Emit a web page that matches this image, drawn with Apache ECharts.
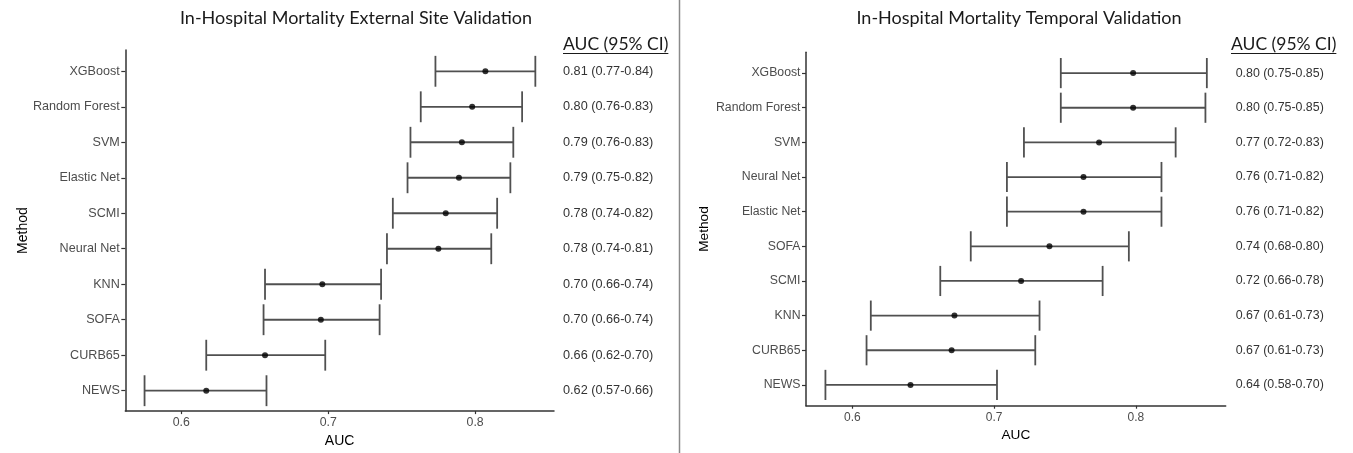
<!DOCTYPE html>
<html><head><meta charset="utf-8">
<script src="https://cdn.jsdelivr.net/npm/echarts@6/dist/echarts.min.js"></script>
<style>html,body{margin:0;padding:0;background:#fff}#c{width:1353px;height:453px}</style>
</head><body><div id="c"></div>
<script>
// ---------------- data ----------------
const leftTitle = 'In-Hospital Mortality External Site Validation';
const rightTitle = 'In-Hospital Mortality Temporal Validation';
const ciHeader = 'AUC (95% CI)';
const xTicks = [0.6, 0.7, 0.8];

const leftMethods = ['XGBoost','Random Forest','SVM','Elastic Net','SCMI','Neural Net','KNN','SOFA','CURB65','NEWS'];
const leftAUC  = [0.807,0.798,0.791,0.789,0.780,0.775,0.696,0.695,0.657,0.617];
const leftLow  = [0.773,0.763,0.756,0.754,0.744,0.740,0.657,0.656,0.617,0.575];
const leftHigh = [0.841,0.832,0.826,0.824,0.815,0.811,0.736,0.735,0.698,0.658];
const leftCI   = ['0.81 (0.77-0.84)','0.80 (0.76-0.83)','0.79 (0.76-0.83)','0.79 (0.75-0.82)','0.78 (0.74-0.82)',
                  '0.78 (0.74-0.81)','0.70 (0.66-0.74)','0.70 (0.66-0.74)','0.66 (0.62-0.70)','0.62 (0.57-0.66)'];
const leftRange = [0.5619, 0.8537];

const rightMethods = ['XGBoost','Random Forest','SVM','Neural Net','Elastic Net','SOFA','SCMI','KNN','CURB65','NEWS'];
const rightAUC  = [0.798,0.798,0.774,0.763,0.763,0.739,0.719,0.672,0.670,0.641];
const rightLow  = [0.747,0.747,0.721,0.709,0.709,0.6835,0.662,0.613,0.610,0.581];
const rightHigh = [0.850,0.849,0.828,0.818,0.818,0.795,0.7765,0.732,0.729,0.702];
const rightCI   = ['0.80 (0.75-0.85)','0.80 (0.75-0.85)','0.77 (0.72-0.83)','0.76 (0.71-0.82)','0.76 (0.71-0.82)',
                   '0.74 (0.68-0.80)','0.72 (0.66-0.78)','0.67 (0.61-0.73)','0.67 (0.61-0.73)','0.64 (0.58-0.70)'];
const rightRange = [0.5673, 0.8633];

// ---------------- layout ----------------
const panels = [
  {methods:leftMethods, auc:leftAUC, low:leftLow, high:leftHigh, ci:leftCI, range:leftRange,
   L:125.3, R:554, T:50, B:412, s:1, nameGapY:95, textOff:9},
  {methods:rightMethods, auc:rightAUC, low:rightLow, high:rightHigh, ci:rightCI, range:rightRange,
   L:806, R:1225.7, T:52.3, B:405.7, s:0.975, nameGapY:95, textOff:10}
];
const AX = '#333';
const grid = [], xAxis = [], yAxis = [], series = [];
panels.forEach((p, k) => {
  const g0 = k*2, g1 = k*2+1;
  const H = p.B - p.T, band = H / (p.methods.length + 0.2);
  grid.push({left:p.L, top:p.T, width:p.R-p.L, height:H});
  grid.push({left:p.L, top:p.T + 0.1*band, width:p.R-p.L, height:band*p.methods.length});
  xAxis.push({gridIndex:g0, type:'value', min:p.range[0], max:p.range[1],
    axisLine:{show:true, lineStyle:{color:AX, width:1.5}},
    axisTick:{show:true, customValues:xTicks, length:3, lineStyle:{color:AX, width:1.2}},
    axisLabel:{customValues:xTicks, color:'#4d4d4d', fontFamily:'Liberation Sans', fontSize:12.3*p.s, margin:6,
      formatter:v=>v.toFixed(1)},
    splitLine:{show:false},
    name:'AUC', nameLocation:'middle', nameGap:20*p.s,
    nameTextStyle:{color:'#000', fontFamily:'Liberation Sans', fontSize:14*p.s}});
  xAxis.push({gridIndex:g1, type:'value', min:p.range[0], max:p.range[1], show:false});
  yAxis.push({gridIndex:g0, type:'value', min:0, max:1,
    axisLine:{show:true, lineStyle:{color:AX, width:1.5}}, axisTick:{show:false}, axisLabel:{show:false},
    splitLine:{show:false},
    name:'Method', nameLocation:'middle', nameRotate:90, nameGap:p.nameGapY,
    nameTextStyle:{color:'#000', fontFamily:'Liberation Sans', fontSize:14*p.s}});
  yAxis.push({gridIndex:g1, type:'category', data:p.methods, inverse:true, boundaryGap:true,
    axisLine:{show:false},
    axisTick:{show:true, alignWithLabel:true, length:4, lineStyle:{color:AX, width:1.2}},
    axisLabel:{color:'#4d4d4d', fontFamily:'Liberation Sans', fontSize:12.6*p.s, margin:5.5},
    splitLine:{show:false}});
  // error bars
  series.push({type:'custom', xAxisIndex:g1, yAxisIndex:g1, clip:false,
    encode:{x:[1,2], y:0},
    data:p.methods.map((m,i)=>[i, p.low[i], p.high[i]]),
    renderItem:(params, api)=>{
      const a = api.coord([api.value(1), api.value(0)]);
      const b = api.coord([api.value(2), api.value(0)]);
      const h = api.size([0,1])[1]*0.435;
      const st = {stroke:'#505050', lineWidth:1.8};
      return {type:'group', children:[
        {type:'line', shape:{x1:a[0], y1:a[1], x2:b[0], y2:b[1]}, style:st},
        {type:'line', shape:{x1:a[0], y1:a[1]-h, x2:a[0], y2:a[1]+h}, style:st},
        {type:'line', shape:{x1:b[0], y1:b[1]-h, x2:b[0], y2:b[1]+h}, style:st}
      ]};
    }, z:2});
  // points
  series.push({type:'scatter', xAxisIndex:g1, yAxisIndex:g1, symbol:'circle', symbolSize:6,
    itemStyle:{color:'#000'}, data:p.methods.map((m,i)=>[p.auc[i], i]), z:3});
  // CI text
  series.push({type:'custom', xAxisIndex:g1, yAxisIndex:g1, clip:false,
    data:p.methods.map((m,i)=>[p.range[1], i]),
    renderItem:(params, api)=>{
      const c = api.coord([api.value(0), api.value(1)]);
      return {type:'text', x:c[0]+p.textOff, y:c[1],
        style:{text:p.ci[params.dataIndex], fill:'#333', font:(12.7*p.s)+'px "Liberation Sans"',
               align:'left', verticalAlign:'middle'}};
    }});
});

// text measure for underline
const ctx = document.createElement('canvas').getContext('2d');
const hdrFont = '17.5px Lato';
ctx.font = hdrFont;
const hdrW = ctx.measureText(ciHeader).width;
const graphic = [
  {type:'text', x:356, y:18.5, style:{text:leftTitle, font:'18px Lato', fill:'#1a1a1a', align:'center', verticalAlign:'middle'}},
  {type:'text', x:1019, y:18.5, style:{text:rightTitle, font:'18px Lato', fill:'#1a1a1a', align:'center', verticalAlign:'middle'}},
  {type:'text', x:563, y:44, style:{text:ciHeader, font:hdrFont, fill:'#1a1a1a', align:'left', verticalAlign:'middle'}},
  {type:'line', shape:{x1:563, y1:53.5, x2:563+hdrW, y2:53.5}, style:{stroke:'#1a1a1a', lineWidth:1.2}},
  {type:'text', x:1231, y:44, style:{text:ciHeader, font:hdrFont, fill:'#1a1a1a', align:'left', verticalAlign:'middle'}},
  {type:'line', shape:{x1:1231, y1:53.5, x2:1231+hdrW, y2:53.5}, style:{stroke:'#1a1a1a', lineWidth:1.2}},
  {type:'line', shape:{x1:679.5, y1:0, x2:679.5, y2:453}, style:{stroke:'#8a8a8a', lineWidth:1.5}}
];

const chart = echarts.init(document.getElementById('c'), null, {renderer:'canvas'});
chart.setOption({backgroundColor:'#fff', animation:false, grid, xAxis, yAxis, series, graphic});
</script></body></html>
